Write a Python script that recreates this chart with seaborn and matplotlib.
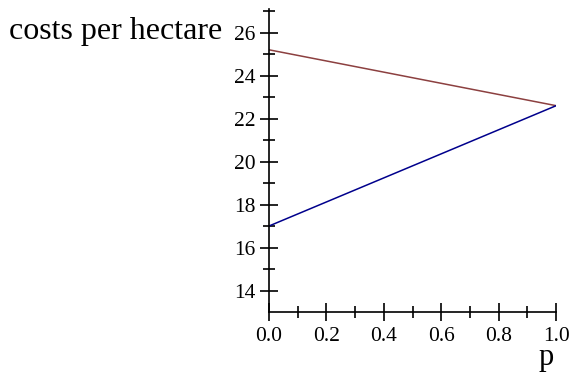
import matplotlib
matplotlib.use("Agg")
import matplotlib.pyplot as plt
import seaborn as sns
import pandas as pd

p_vals = [0.0, 1.0]
cost_a = [25.2, 22.6]   # brown line
cost_b = [17.0, 22.6]   # blue line
x_ticks = [0.0, 0.2, 0.4, 0.6, 0.8, 1.0]
y_ticks = [14, 16, 18, 20, 22, 24, 26]

sns.set_style("white")
plt.rcParams['font.family'] = ['Liberation Serif', 'DejaVu Serif']
plt.rcParams['text.color'] = 'black'

df = pd.DataFrame({
    "p": p_vals * 2,
    "cost": cost_a + cost_b,
    "series": ["a"] * 2 + ["b"] * 2,
})

fig = plt.figure(figsize=(5.71, 3.73), dpi=100)
ax = fig.add_axes([0.471, 0.1635, 0.503, 0.8125])
sns.lineplot(data=df, x="p", y="cost", hue="series",
             palette={"a": "#8c4040", "b": "#00008c"},
             linewidth=1.1, legend=False, ax=ax)

ax.set_xlim(0, 1.0)
ax.set_ylim(13, 27.1)
ax.set_xticks(x_ticks)
ax.set_xticklabels([f"{v:.1f}" for v in x_ticks])
ax.set_yticks(y_ticks)
ax.set_yticklabels([str(v) for v in y_ticks])
ax.set_xticks([0.1, 0.3, 0.5, 0.7, 0.9], minor=True)
ax.set_yticks([15, 17, 19, 21, 23, 25, 27], minor=True)
ax.tick_params(which="both", bottom=True, left=True, top=False, right=False)
ax.tick_params(which="major", direction="inout", length=13, width=1.2,
               labelsize=15.5, colors="black", pad=3)
ax.tick_params(which="minor", direction="inout", length=8, width=1.2, color="black")
ax.tick_params(axis="x", which="major", pad=4)
for s in ["top", "right"]:
    ax.spines[s].set_visible(False)
for s in ["left", "bottom"]:
    ax.spines[s].set_color("black")
    ax.spines[s].set_linewidth(1.2)
ax.set_xlabel("")
ax.set_ylabel("")
ax.grid(False)

fig.text(222 / 571, 1 - 32 / 373, "costs per hectare", ha="right", va="center",
         fontsize=23, color="black")
fig.text(546 / 571, 1 - 358 / 373, "p", ha="center", va="center",
         fontsize=22, color="black")

fig.savefig("out.png", dpi=100)
